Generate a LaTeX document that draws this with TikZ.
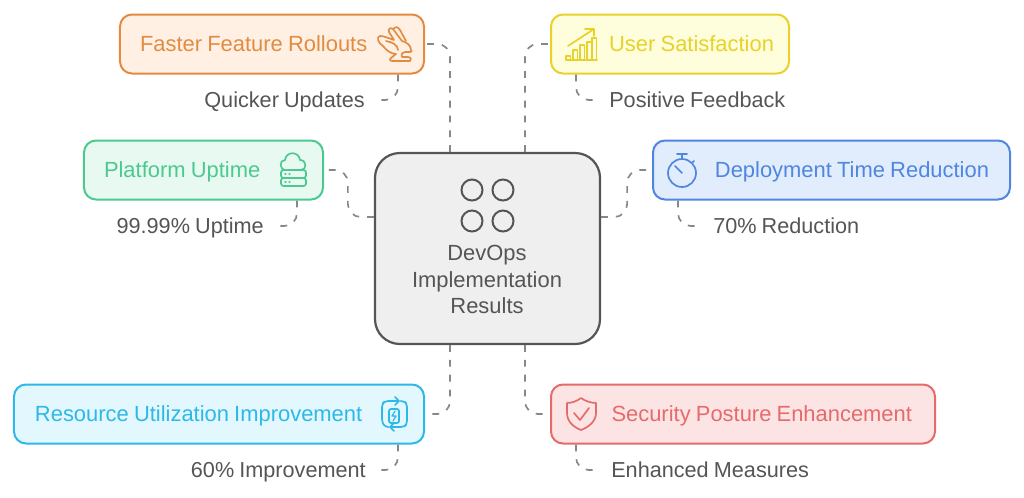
\documentclass[tikz,border=0pt]{standalone}
\usepackage{fontspec}
\setmainfont[WordSpace=0.85]{Liberation Sans}
\usepackage{xcolor}
\usetikzlibrary{calc}
\definecolor{orangeln}{RGB}{226,140,66}
\definecolor{orangebg}{RGB}{255,240,227}
\definecolor{greenln}{RGB}{76,201,143}
\definecolor{greenbg}{RGB}{232,249,241}
\definecolor{yellowln}{RGB}{232,210,42}
\definecolor{yellowbg}{RGB}{254,253,220}
\definecolor{blueln}{RGB}{79,134,223}
\definecolor{bluebg}{RGB}{225,236,253}
\definecolor{cyanln}{RGB}{45,184,232}
\definecolor{cyanbg}{RGB}{226,248,254}
\definecolor{redln}{RGB}{229,107,107}
\definecolor{redbg}{RGB}{253,228,228}
\definecolor{hubln}{RGB}{85,85,85}
\definecolor{hubbg}{RGB}{239,239,239}
\definecolor{linkgrey}{RGB}{135,135,135}
\tikzset{
  box/.style={draw=#1ln,fill=#1bg,text=#1ln,line width=.5mm,rounded corners=3mm,
              minimum height=14.75mm,inner xsep=0pt,inner ysep=0pt,font=\boxfont,
              text height=12.6pt,text depth=2pt},
  hub/.style={draw=hubln,fill=hubbg,line width=.55mm,rounded corners=6.2mm,
              minimum width=56.25mm,minimum height=47.75mm},
  hubtxt/.style={text=hubln,align=center,font=\boxfont,inner sep=0pt},
  lbl/.style={text=hubln,font=\lblfont,inner xsep=3mm,inner ysep=0pt,
              text height=12.6pt,text depth=2pt},
  link/.style={draw=linkgrey,line width=.42mm,rounded corners=3.2mm,dash pattern=on 1.7mm off 2mm},
  icon/.style={draw=#1ln,line width=.42mm,line join=round,line cap=round},
  hubicon/.style={draw=hubln,line width=.5mm},
}
\newcommand{\boxfont}{\fontsize{15.6pt}{18.6pt}\selectfont}
\newcommand{\lblfont}{\fontsize{15.4pt}{18.6pt}\selectfont}
\begin{document}
\begin{tikzpicture}[x=.25mm,y=-.25mm]
  \useasboundingbox (0,0) rectangle (1024,497);

  % ---------------- centre ----------------
  \node[hub] (hub) at (487.5,248.5) {};
  \foreach \x/\y in {472/190,503/190,472/221,503/221}
    \draw[hubicon] (\x,\y) circle[radius=10.5];
  \node[hubtxt] (hubtext) at (487,279.5) {DevOps\\Implementation\\Results};

  % ---------------- left side ----------------
  \node[box=orange,minimum width=76mm,text width=66mm,align=flush left] (faster) at (272,44) {Faster Feature Rollouts};
  \node[box=green,minimum width=59.75mm,text width=49.75mm,align=flush left] (platform) at (203.5,170) {Platform Uptime};
  \node[box=cyan,minimum width=102.5mm,text width=92mm,align=flush left] (resource) at (219,414) {Resource Utilization Improvement};
  \node[lbl,anchor=east] (quicker) at (377,100) {Quicker Updates};
  \node[lbl,anchor=east] (uptime) at (276,226) {99.99\% Uptime};
  \node[lbl,anchor=east] (improve) at (378,470) {60\% Improvement};

  % ---------------- right side ----------------
  \node[box=yellow,minimum width=59.5mm,text width=52mm,align=flush right] (user) at (670,44) {User Satisfaction};
  \node[box=blue,minimum width=89.25mm,text width=78.75mm,align=flush right] (deploy) at (831.5,170) {Deployment Time Reduction};
  \node[box=red,minimum width=96mm,text width=84.5mm,align=flush right] (security) at (743,414) {Security Posture Enhancement};
  \node[lbl,anchor=west] (positive) at (597,100) {Positive Feedback};
  \node[lbl,anchor=west] (reduction) at (701,226) {70\% Reduction};
  \node[lbl,anchor=west] (enhanced) at (599,470) {Enhanced Measures};

  % connectors to the centre
  \draw[link] ($(hub.north)+(-37.5,0)$) |- (faster.east);
  \draw[link] ($(hub.north)+(37.5,0)$) |- (user.west);
  \draw[link] ($(hub.south)+(-37.5,0)$) |- (resource.east);
  \draw[link] ($(hub.south)+(37.5,0)$) |- (security.west);
  \draw[link] ($(hub.west)+(0,-31.5)$) -- ++(-26,0) -- ++(0,-47) -- (platform.east);
  \draw[link] ($(hub.east)+(0,-31.5)$) -- ++(26,0) -- ++(0,-47) -- (deploy.west);

  % connectors to the labels
  \draw[link] ($(faster.south east)+(-27,0)$) |- (quicker.east);
  \draw[link] ($(platform.south east)+(-27,0)$) |- (uptime.east);
  \draw[link] ($(resource.south east)+(-27,0)$) |- (improve.east);
  \draw[link] ($(user.south west)+(26,0)$) |- (positive.west);
  \draw[link] ($(deploy.south west)+(26,0)$) |- (reduction.west);
  \draw[link] ($(security.south west)+(26,0)$) |- (enhanced.west);

  % rabbit
  \draw[icon=orange] (411,50) .. controls (411,45) and (406,42) .. (402,41) -- (393,29)
    .. controls (390,27) and (388,29) .. (389,32) -- (394,40) .. controls (388,38) and (384,36) .. (380,36)
    .. controls (376,37) and (378,43) .. (383,46) .. controls (386,50) and (391,54) .. (396,54)
    -- (391,58) .. controls (389,60) and (390,61) .. (393,61) -- (410,61)
    .. controls (412,60) and (411,57) .. (408,57) -- (402,57) .. controls (401,54) and (402,53) .. (405,52)
    -- (410,52) .. controls (412,52) and (412,51) .. (411,50);
  \draw[icon=orange] (393,29) .. controls (396,26) and (398,27) .. (400,30) -- (406,41);
  \draw[icon=orange] (386,41) .. controls (392,42) and (398,45) .. (398,50);
  % cloud and servers
  \draw[icon=green] (286,170) .. controls (279,170) and (279,160) .. (285,160)
    .. controls (286,151) and (299,151) .. (300,160) .. controls (307,160) and (307,170) .. (301,170);
  \draw[icon=green,rounded corners=.6mm] (281,170) rectangle (306,178);
  \draw[icon=green,rounded corners=.6mm] (281,178) rectangle (306,186);
  \foreach \y in {174,182}
    \draw[icon=green,line width=.3mm] (285,\y) -- (286,\y) (289,\y) -- (290,\y);
  % chart with arrow
  \draw[icon=yellow] (566,60) -- (597,60);
  \foreach \x/\y in {566/56,573/50,580/45,587/42,592/38}
    \draw[icon=yellow,line width=.32mm] (\x,60) -- (\x,\y) -- (\x+4.5,\y) -- (\x+4.5,60);
  \draw[icon=yellow] (568,46) -- (594,29) (585,29) -- (594,29) -- (594,36);
  % stopwatch
  \draw[icon=blue] (682,173) circle[radius=14];
  \draw[icon=blue] (682,173) -- (675,166) (682,159) -- (682,155) (677,154) -- (687,154) (692,163) -- (694,161);
  % battery with arrows
  \draw[icon=cyan,rounded corners=.8mm] (390,401) -- (385,401) -- (382,404) -- (382,422) -- (385,427) -- (388,427);
  \draw[icon=cyan,rounded corners=.8mm] (399,427) -- (404,427) -- (407,424) -- (407,404) -- (404,401) -- (401,401);
  \draw[icon=cyan] (389,401) -- (399,401) (395,397) -- (399,401) -- (395,405);
  \draw[icon=cyan] (400,427) -- (390,427) (394,423) -- (390,427) -- (394,431);
  \draw[icon=cyan,rounded corners=.5mm] (389,409) rectangle (399,423);
  \draw[icon=cyan,line width=.3mm] (395,411) -- (392,416) -- (396,416) -- (393,421);
  % shield
  \draw[icon=red] (567,403) .. controls (572,403) and (577,401) .. (581,398)
    .. controls (585,401) and (591,403) .. (596,403) -- (596,413)
    .. controls (596,421) and (589,427) .. (581,430) .. controls (573,427) and (567,421) .. (567,413) -- cycle;
  \draw[icon=red] (574,413) -- (580,420) -- (589,408);
\end{tikzpicture}
\end{document}
